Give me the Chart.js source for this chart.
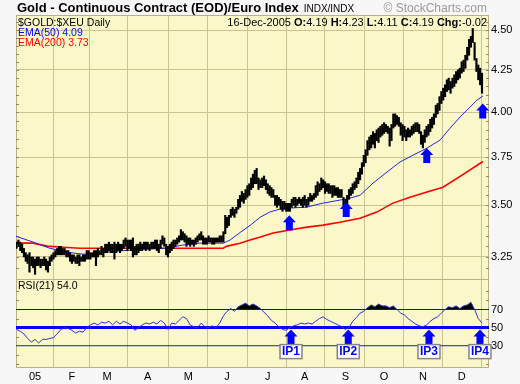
<!DOCTYPE html>
<html><head><meta charset="utf-8">
<script src="https://cdn.jsdelivr.net/npm/chart.js@4.4.1/dist/chart.umd.min.js"></script>
<style>
html,body{margin:0;padding:0;background:#f7f7f7;}
#wrap{position:relative;width:520px;height:384px;overflow:hidden;font-family:"Liberation Sans",Arial,sans-serif;}
#c{position:absolute;left:0;top:0;}
.t{position:absolute;white-space:nowrap;line-height:1;}
b{font-weight:bold;}
</style></head><body>
<div id="wrap">
<canvas id="c" width="520" height="384"></canvas>
<div class="t" style="left:17px;top:1px;font-size:13px;font-weight:bold;color:#000;">Gold - Continuous Contract (EOD)/Euro Index<span style="font-size:10px;font-weight:normal;margin-left:5px;">INDX/INDX</span></div>
<div class="t" style="right:33px;top:2px;font-size:12px;color:#9a9a9a;">© StockCharts.com</div>
<div class="t" style="left:18px;top:17px;font-size:10.5px;color:#000;">$GOLD:$XEU Daily</div>
<div class="t" style="right:33px;top:17px;font-size:11px;color:#000;">16-Dec-2005 <b>O:</b>4.19 <b>H:</b>4.23 <b>L:</b>4.11 <b>C:</b>4.19 <b>Chg:</b>-0.02</div>
<div class="t" style="left:18px;top:27px;font-size:10.5px;color:#0000ff;">EMA(50) 4.09</div>
<div class="t" style="left:18px;top:37px;font-size:10.5px;color:#ff0000;">EMA(200) 3.73</div>
<div class="t" style="left:18px;top:280px;font-size:10.5px;color:#000;">RSI(21) 54.0</div>
</div>
<script>
// ---- data (trading-day index: 0 = 3-Jan-2005) ----
const firstBarIdx = -10;
const highs = [
3.32,3.33,3.32,3.31,3.29,3.27,3.26,3.27,3.25,3.25,
3.24,3.25,3.25,3.24,3.24,3.25,3.24,3.23,3.25,3.26,
3.27,3.28,3.29,3.30,3.30,3.29,3.29,3.28,3.28,3.27,
3.26,3.26,3.25,3.26,3.26,3.25,3.26,3.26,3.28,3.28,
3.27,3.27,3.28,3.28,3.29,3.28,3.30,3.29,3.31,3.31,
3.32,3.31,3.31,3.32,3.31,3.32,3.31,3.31,3.33,3.34,
3.33,3.33,3.33,3.34,3.30,3.31,3.31,3.32,3.31,3.32,
3.32,3.32,3.31,3.32,3.32,3.33,3.33,3.31,3.33,3.35,
3.34,3.31,3.30,3.31,3.32,3.33,3.33,3.34,3.35,3.38,
3.37,3.36,3.35,3.34,3.34,3.33,3.33,3.34,3.35,3.36,
3.37,3.35,3.34,3.34,3.35,3.34,3.34,3.34,3.34,3.34,
3.35,3.35,3.37,3.45,3.44,3.45,3.48,3.49,3.48,3.49,
3.53,3.55,3.57,3.56,3.58,3.60,3.61,3.64,3.66,3.68,
3.69,3.64,3.63,3.64,3.65,3.63,3.61,3.60,3.59,3.58,
3.55,3.55,3.54,3.53,3.52,3.52,3.51,3.51,3.51,3.53,
3.54,3.54,3.53,3.54,3.53,3.54,3.55,3.53,3.54,3.56,
3.55,3.56,3.60,3.62,3.61,3.64,3.63,3.62,3.61,3.61,
3.60,3.60,3.60,3.59,3.59,3.58,3.58,3.54,3.53,3.55,
3.58,3.59,3.61,3.62,3.64,3.67,3.69,3.72,3.76,3.79,
3.84,3.86,3.87,3.89,3.88,3.90,3.91,3.92,3.93,3.94,
3.93,3.92,3.91,3.93,3.99,3.99,3.98,3.97,3.94,3.93,
3.92,3.90,3.91,3.90,3.92,3.93,3.94,3.94,3.93,3.89,
3.87,3.90,3.92,3.93,3.96,3.97,3.99,4.04,4.05,4.09,
4.12,4.14,4.16,4.19,4.20,4.18,4.20,4.22,4.24,4.25,
4.26,4.30,4.31,4.34,4.39,4.44,4.46,4.51,4.42,4.32,
4.28,4.26,4.23];
const lows = [
3.29,3.30,3.28,3.27,3.25,3.23,3.22,3.18,3.21,3.20,
3.17,3.21,3.21,3.20,3.21,3.21,3.19,3.18,3.21,3.23,
3.24,3.25,3.26,3.26,3.26,3.26,3.26,3.25,3.25,3.23,
3.22,3.23,3.22,3.22,3.21,3.23,3.23,3.23,3.24,3.24,
3.24,3.25,3.25,3.21,3.25,3.26,3.26,3.25,3.27,3.27,
3.28,3.27,3.27,3.24,3.27,3.28,3.27,3.28,3.29,3.30,
3.28,3.29,3.28,3.25,3.26,3.26,3.27,3.28,3.28,3.29,
3.28,3.29,3.28,3.29,3.29,3.29,3.28,3.27,3.29,3.31,
3.30,3.26,3.25,3.27,3.28,3.29,3.30,3.31,3.32,3.33,
3.33,3.32,3.30,3.31,3.30,3.31,3.30,3.31,3.32,3.33,
3.33,3.31,3.31,3.31,3.32,3.32,3.31,3.31,3.32,3.32,
3.32,3.32,3.32,3.36,3.39,3.40,3.44,3.45,3.44,3.46,
3.48,3.49,3.52,3.51,3.53,3.54,3.55,3.58,3.59,3.61,
3.61,3.58,3.59,3.59,3.60,3.58,3.56,3.55,3.54,3.54,
3.50,3.49,3.50,3.48,3.47,3.48,3.47,3.47,3.47,3.49,
3.50,3.49,3.50,3.51,3.50,3.49,3.50,3.49,3.50,3.52,
3.52,3.53,3.54,3.55,3.57,3.58,3.59,3.56,3.57,3.56,
3.56,3.54,3.55,3.55,3.54,3.54,3.54,3.50,3.49,3.50,
3.53,3.55,3.56,3.58,3.59,3.61,3.63,3.66,3.70,3.72,
3.76,3.79,3.80,3.82,3.80,3.84,3.83,3.86,3.87,3.88,
3.89,3.88,3.81,3.84,3.91,3.92,3.93,3.92,3.87,3.84,
3.86,3.84,3.86,3.86,3.87,3.88,3.89,3.89,3.88,3.82,
3.80,3.83,3.86,3.87,3.89,3.91,3.93,3.97,3.99,4.01,
4.05,4.07,4.09,4.12,4.13,4.11,4.14,4.15,4.17,4.19,
4.20,4.23,4.24,4.26,4.31,4.34,4.39,4.42,4.31,4.24,
4.19,4.16,4.11];
const ema50Idx = [-10.3,-1,8,17,26,35,44,53,62,71,80,89,102,105.6,111,116.4,122,127,132.6,138,147,156,165,170.5,176,183,190.6,197.6,204.7,212.2,219.3,224.7,230.1,235.5,239.3,242.5];
const ema50 = [3.348,3.320,3.291,3.273,3.263,3.268,3.278,3.282,3.287,3.291,3.306,3.315,3.315,3.330,3.366,3.400,3.441,3.466,3.481,3.486,3.491,3.511,3.526,3.536,3.551,3.613,3.671,3.724,3.761,3.799,3.843,3.909,3.972,4.029,4.070,4.094];
const ema200Idx = [-10.3,-1,6.5,15,24.4,51.4,78.5,101.8,104,111,116.4,122,128.9,138,147.3,156,165,176,185,193.8,203,212.2,220.9,231.2,242.5];
const ema200 = [3.315,3.315,3.301,3.296,3.291,3.291,3.291,3.291,3.301,3.315,3.330,3.344,3.364,3.378,3.392,3.402,3.416,3.436,3.466,3.511,3.541,3.567,3.592,3.655,3.727];
const rsiFirstIdx = -10, rsiStep = 2;
const rsi = [
48,46,43,38,34,37,33,37,37,38,
39,43,48,50,49,47,44,46,45,50,
53,55,53,56,55,57,53,57,54,57,
55,53,47,50,53,55,54,56,54,58,
55,48,55,54,58,62,60,53,51,50,
55,51,50,52,50,55,63,68,71,68,
73,75,77,74,76,74,71,67,63,58,
55,51,48,47,50,52,53,55,54,55,
54,57,60,62,59,57,55,53,51,48,
50,57,61,66,68,72,75,73,76,74,
74,72,74,70,66,64,60,57,54,52,
51,53,57,60,62,66,70,73,72,74,
71,74,75,78,70,60,55];
const rsiLevels = [70, 50, 30];
const priceTicks = [3.25, 3.50, 3.75, 4.00, 4.25, 4.50];
const priceMinorTicks = [3.20,3.30,3.35,3.40,3.45,3.55,3.60,3.65,3.70,3.80,3.85,3.90,3.95,4.05,4.10,4.15,4.20,4.30,4.35,4.40,4.45,4.55];
const rsiMinorTicks = [10, 20, 40, 60, 80, 90];
const monthIdx = [0, 20, 39, 61, 83, 104, 126, 146, 168, 189, 210, 231];
const monthLabels = ['05','F','M','A','M','J','J','A','S','O','N','D'];
const ipLabels = ['IP1','IP2','IP3','IP4'];
const ipIdx = [137.7, 168.5, 212.1, 242.4];
const ipPrice = [3.451, 3.517, 3.800, 4.050];
const ipRsiIdx = [138.6, 169.6, 213.3, 240.9];
const ipRsi = [47.8, 47.8, 47.8, 47.8];
const xMin = -10.3, xMax = 245.8;
const priceMin = 3.149, priceMax = 4.598;
const rsiMin = 5.4, rsiMax = 103.7;

// ---- styles ----
const PANEL_BG = '#faf8c9', GRID = '#cbc391', FRAME = '#b9b08a';
Chart.defaults.font.family = '"Liberation Sans", Arial, sans-serif';
Chart.defaults.color = '#000';

const bars = highs.map((h, k) => ({x: firstBarIdx + k, y: [lows[k], h]}));
const rsiPts = rsi.map((v, k) => ({x: rsiFirstIdx + k * rsiStep, y: v}));
const pts = (xs, ys) => xs.map((x, k) => ({x, y: ys[k]}));

const levelSets = rsiLevels.map(l => ({
  type: 'line', yAxisID: 'yRsi', data: [{x: xMin, y: l}, {x: xMax, y: l}],
  borderColor: l === 50 ? '#0000ff' : '#1a1ac8', borderWidth: l === 50 ? 3 : 1,
  pointRadius: 0, order: 3
}));

const framePlugin = {
  id: 'frame',
  beforeDraw(c) {
    const a = c.chartArea, ctx = c.ctx;
    ctx.save(); ctx.fillStyle = PANEL_BG;
    ctx.fillRect(a.left, a.top, a.right - a.left, a.bottom - a.top);
    ctx.restore();
  },
  beforeDatasetsDraw(c) {
    const a = c.chartArea, ctx = c.ctx, ys = c.scales.y, rs = c.scales.yRsi, mid = ys.bottom;
    ctx.save(); ctx.strokeStyle = FRAME; ctx.lineWidth = 1;
    ctx.strokeRect(a.left + 0.5, a.top + 0.5, a.right - a.left - 1, mid - a.top);
    ctx.strokeRect(a.left + 0.5, mid + 0.5, a.right - a.left - 1, a.bottom - mid - 1);
    ctx.beginPath();
    const tick = (py) => {
      const yy = Math.round(py) + 0.5;
      ctx.moveTo(a.left, yy); ctx.lineTo(a.left + 3, yy);
      ctx.moveTo(a.right - 3, yy); ctx.lineTo(a.right, yy);
    };
    priceMinorTicks.forEach(v => tick(ys.getPixelForValue(v)));
    priceTicks.forEach(v => tick(ys.getPixelForValue(v)));
    rsiMinorTicks.forEach(v => tick(rs.getPixelForValue(v)));
    ctx.strokeStyle = '#8f8766'; ctx.stroke();
    ctx.restore();
  }
};

function arrow(ctx, x, y) {
  ctx.beginPath();
  ctx.moveTo(x, y); ctx.lineTo(x + 6.5, y + 7); ctx.lineTo(x + 3.5, y + 7);
  ctx.lineTo(x + 3.5, y + 15); ctx.lineTo(x - 3.5, y + 15); ctx.lineTo(x - 3.5, y + 7);
  ctx.lineTo(x - 6.5, y + 7); ctx.closePath(); ctx.fill();
}
const ipPlugin = {
  id: 'ip',
  afterDatasetsDraw(c) {
    const ctx = c.ctx, xs = c.scales.x, ys = c.scales.y, rs = c.scales.yRsi;
    ctx.save();
    ipLabels.forEach((lab, k) => {
      ctx.fillStyle = '#0000ff';
      arrow(ctx, xs.getPixelForValue(ipIdx[k]), ys.getPixelForValue(ipPrice[k]));
      const rx = xs.getPixelForValue(ipRsiIdx[k]), ry = rs.getPixelForValue(ipRsi[k]);
      arrow(ctx, rx, ry);
      const bw = 22, bh = 14, bx = rx - bw / 2, by = ry + 15;
      ctx.fillStyle = '#ffffff'; ctx.fillRect(bx, by, bw, bh);
      ctx.strokeStyle = '#858585'; ctx.lineWidth = 1.5; ctx.strokeRect(bx, by, bw, bh);
      ctx.fillStyle = '#0000ff'; ctx.font = 'bold 12px "Liberation Sans", Arial, sans-serif';
      ctx.textAlign = 'center'; ctx.textBaseline = 'middle';
      ctx.fillText(lab, rx, by + bh / 2 + 0.5);
    });
    ctx.restore();
  }
};

new Chart(document.getElementById('c'), {
  type: 'bar',
  data: {
    datasets: [
      {type: 'bar', yAxisID: 'y', data: bars, backgroundColor: '#000', barThickness: 1.5, order: 0},
      {type: 'line', yAxisID: 'y', data: pts(ema50Idx, ema50), borderColor: '#2424e6', borderWidth: 1, pointRadius: 0, order: 1},
      {type: 'line', yAxisID: 'y', data: pts(ema200Idx, ema200), borderColor: '#ff0000', borderWidth: 1.6, pointRadius: 0, order: 2},
      {type: 'line', yAxisID: 'yRsi', data: rsiPts, borderColor: '#3030d0', borderWidth: 1, pointRadius: 0, order: 1,
        fill: {target: {value: 70}, above: '#000', below: 'rgba(0,0,0,0)'}},
      ...levelSets
    ]
  },
  options: {
    responsive: false, animation: false, devicePixelRatio: 1,
    layout: {padding: {left: 16, top: 15, right: 0, bottom: 0}},
    plugins: {legend: {display: false}, tooltip: {enabled: false}},
    events: [],
    scales: {
      x: {
        type: 'linear', min: xMin, max: xMax, offset: false,
        afterBuildTicks: s => { s.ticks = monthIdx.map(v => ({value: v})); },
        afterFit: s => { s.height = 16; },
        ticks: {autoSkip: false, maxRotation: 0, padding: 2, font: {size: 11},
          callback: v => { const k = monthIdx.indexOf(v); return k >= 0 ? monthLabels[k] : ''; }},
        grid: {color: GRID, drawTicks: false},
        border: {display: false}
      },
      y: {
        type: 'logarithmic', position: 'right', stack: 'main', stackWeight: 264,
        min: priceMin, max: priceMax,
        afterBuildTicks: s => { s.ticks = priceTicks.map(v => ({value: v})); },
        afterFit: s => { s.width = 31; },
        ticks: {padding: 2, font: {size: 11}, callback: v => Number(v).toFixed(2)},
        grid: {color: GRID, drawTicks: false},
        border: {display: false}
      },
      yRsi: {
        type: 'linear', position: 'right', stack: 'main', stackWeight: 89,
        min: rsiMin, max: rsiMax,
        afterBuildTicks: s => { s.ticks = rsiLevels.map(v => ({value: v})); },
        afterFit: s => { s.width = 31; },
        ticks: {padding: 2, font: {size: 11}, callback: v => String(v)},
        grid: {display: false, drawTicks: false},
        border: {display: false}
      }
    }
  },
  plugins: [framePlugin, ipPlugin]
});
</script>
</body></html>
